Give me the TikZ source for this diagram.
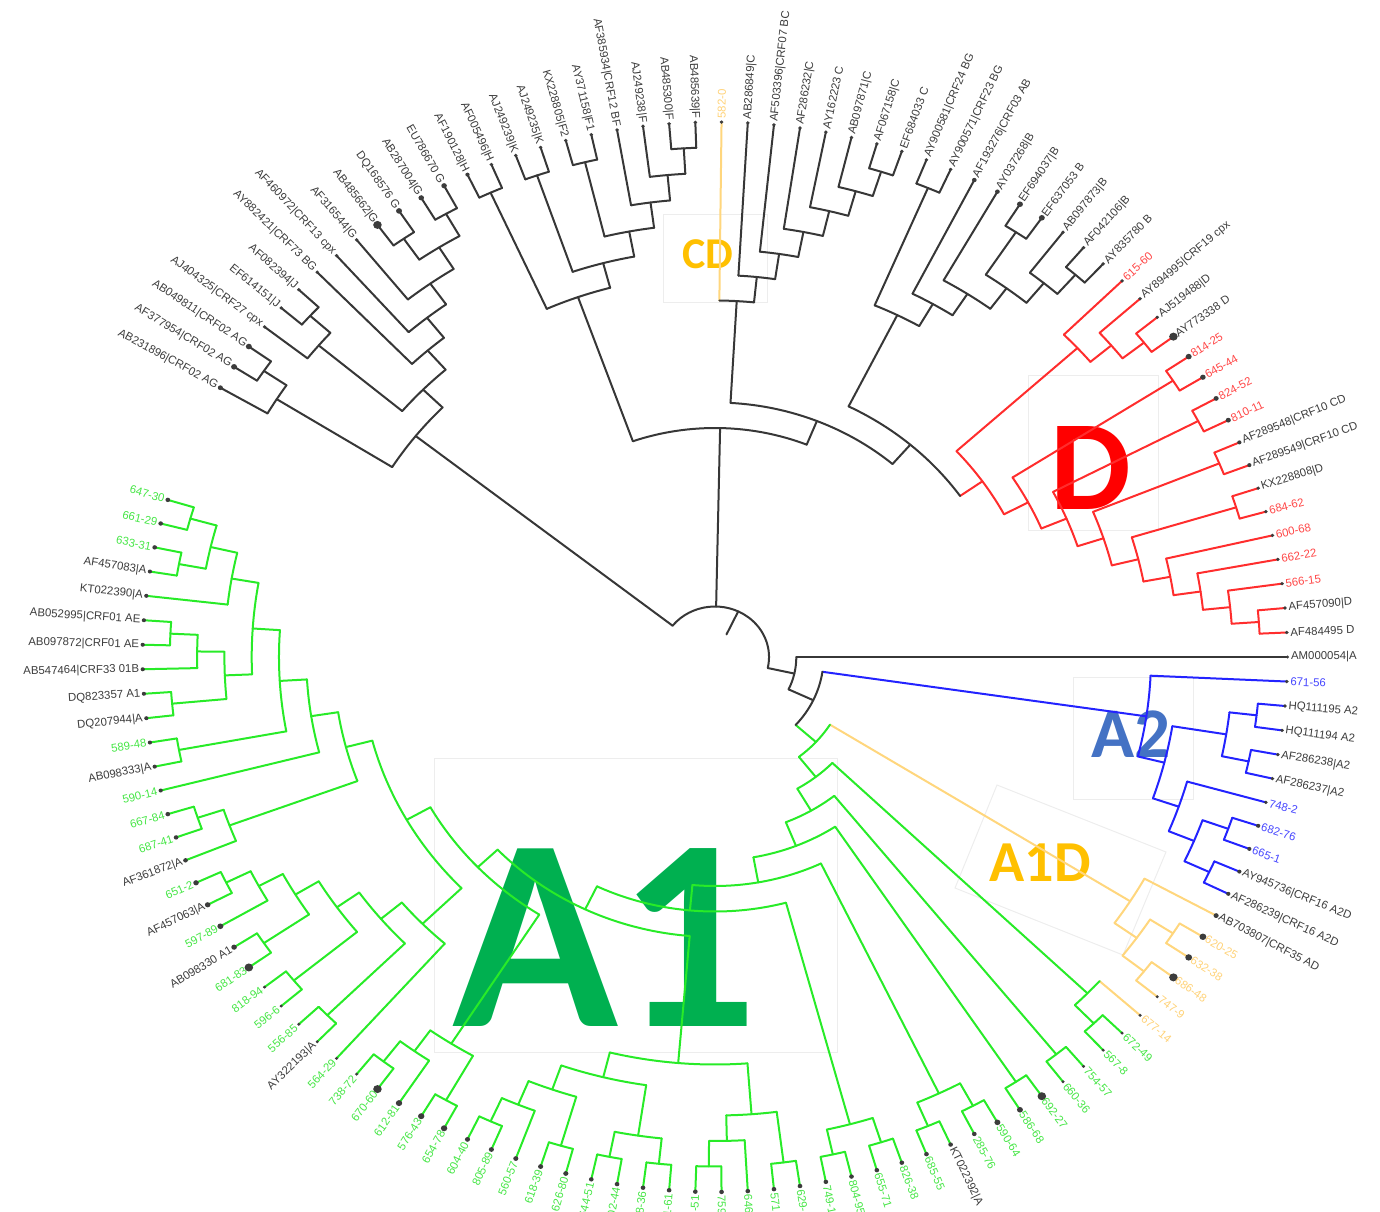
\documentclass[tikz,border=0pt]{standalone}
\usepackage{fontspec}
\setmainfont{Liberation Sans}
\newfontfamily\calb{Carlito}
\usetikzlibrary{positioning}
\pgfdeclarelayer{bg}
\pgfdeclarelayer{fg}
\pgfsetlayers{bg,main,fg}

\definecolor{brk}{RGB}{55,55,55}
\definecolor{brg}{RGB}{40,235,40}
\definecolor{brr}{RGB}{255,45,45}
\definecolor{brb}{RGB}{35,35,255}
\definecolor{bry}{RGB}{255,214,125}
\definecolor{labk}{RGB}{60,60,60}
\definecolor{labg}{RGB}{70,230,70}
\definecolor{labr}{RGB}{255,70,70}
\definecolor{labb}{RGB}{70,70,255}
\definecolor{laby}{RGB}{255,210,120}
\definecolor{bigcd}{RGB}{255,192,0}
\definecolor{bigd}{RGB}{255,0,0}
\definecolor{biga}{RGB}{68,114,196}
\definecolor{bigone}{RGB}{0,176,80}

% node store: angle, radius, colour
\newcommand\setnode[4]{%
  \expandafter\xdef\csname na@#1\endcsname{#2}%
  \expandafter\xdef\csname nr@#1\endcsname{#3}%
  \expandafter\xdef\csname nc@#1\endcsname{#4}}
\newcommand\tAng[1]{\csname na@#1\endcsname}
\newcommand\tRad[1]{\csname nr@#1\endcsname}
\newcommand\tCol[1]{\csname nc@#1\endcsname}

% leaf: slot, branch colour, label colour, dot radius, text
\newcommand\leaf[5]{%
  \pgfmathsetmacro\lfa{(#1-137*(#1>61))*2.6277372}%
  \setnode{l#1}{\lfa}{535}{#2}%
  \pgfmathsetmacro\lfr{atan2(sin(\lfa),1.07*cos(\lfa))}%
  \pgfmathtruncatemacro\lfs{cos(\lfa)>-0.001}%
  \begin{pgfonlayer}{fg}%
    \fill[labk] (\lfa:535) circle[radius=#4pt];%
    \ifnum\lfs=1
      \node[tiplab,text=#3,anchor=west,rotate=\lfr] (n#1) at (\lfa:535) {#5};%
    \else
      \pgfmathsetmacro\lfr{\lfr-180}%
      \node[tiplab,text=#3,anchor=east,rotate=\lfr] (n#1) at (\lfa:535) {#5};%
    \fi
  \end{pgfonlayer}%
}

% join two clades at level #5
\newcommand\jn[5][brk]{%
  \edef\jA{\tAng{#3}}\edef\jB{\tAng{#4}}%
  \edef\jRa{\tRad{#3}}\edef\jRb{\tRad{#4}}%
  \edef\jCa{\tCol{#3}}\edef\jCb{\tCol{#4}}%
  \pgfmathsetmacro\jR{535-25.5*#5}%
  \pgfmathsetmacro\jM{(\jA+\jB)/2}%
  \setnode{#2}{\jM}{\jR}{#1}%
  \draw[branch,draw=\jCa] (\jA:\jR) -- (\jA:\jRa);%
  \draw[branch,draw=\jCb] (\jB:\jR) -- (\jB:\jRb);%
  \draw[branch,draw=#1] (\jA:\jR) arc[start angle=\jA,end angle=\jB,radius=\jR];%
}

\begin{document}
\begin{tikzpicture}[
    x=0.5pt, y=0.5pt,
    branch/.style={line width=1pt, line cap=round},
    tiplab/.style={font=\fontsize{5.7}{6}\selectfont, inner sep=1.6pt},
    faint/.style={draw=black!7, line width=0.5pt}
]
\useasboundingbox (-715,-554) rectangle (665,657);
\begin{scope}[x=0.5pt,y=-0.5pt,shift={(-715,-657)}]
    \begin{pgfonlayer}{bg}
    \draw[faint] (663,215) rectangle (767,302);
    \draw[faint] (1028,375) rectangle (1158,530);
    \draw[faint] (1073,677) rectangle (1193,799);
    \draw[faint] (997,785) -- (1166,852) -- (1123,955) -- (955,888) -- cycle;
    \draw[faint] (435,758) rectangle (837,1052);
    \node[text=bigcd, font=\calb\bfseries\fontsize{22}{22}\selectfont, inner sep=0pt] (cdname) at (708,254) {CD};
    \node[text=bigd, font=\calb\bfseries\fontsize{64}{64}\selectfont, inner sep=0pt] (dname) at (1091,468) {D};
    \node[text=biga, font=\calb\bfseries\fontsize{35.6}{36}\selectfont, inner sep=0pt] (atwo) at (1131,734) {A2};
    \node[text=bigcd, font=\calb\bfseries\fontsize{29}{29}\selectfont, inner sep=0pt] (aoned) at (1040,863) {A1D};
    \node[text=bigone, font=\calb\bfseries\fontsize{137}{137}\selectfont, inner sep=0pt] (aone) at (605,938) {A1};
    \end{pgfonlayer}
\end{scope}

\begin{scope}[xscale=1.07]
% tips
\leaf{0}{brk}{labk}{0.8}{AM000054|A}
\leaf{1}{brr}{labk}{0.9}{AF484495 D}
\leaf{2}{brr}{labk}{0.9}{AF457090|D}
\leaf{3}{brr}{labr}{0.9}{566-15}
\leaf{4}{brr}{labr}{0.9}{662-22}
\leaf{5}{brr}{labr}{0.9}{600-68}
\leaf{6}{brr}{labr}{0.9}{684-62}
\leaf{7}{brr}{labk}{0.9}{KX228808|D}
\leaf{8}{brr}{labk}{1.0}{AF289549|CRF10 CD}
\leaf{9}{brr}{labk}{1.0}{AF289548|CRF10 CD}
\leaf{10}{brr}{labr}{1.2}{810-11}
\leaf{11}{brr}{labr}{1.2}{824-52}
\leaf{12}{brr}{labr}{1.3}{645-44}
\leaf{13}{brr}{labr}{1.4}{814-25}
\leaf{14}{brr}{labk}{2.0}{AY773338 D}
\leaf{15}{brr}{labk}{0.9}{AJ519488|D}
\leaf{16}{brr}{labk}{0.9}{AY894995|CRF19 cpx}
\leaf{17}{brr}{labr}{0.9}{615-60}
\leaf{18}{brk}{labk}{0.9}{AY835780 B}
\leaf{19}{brk}{labk}{0.9}{AF042106|B}
\leaf{20}{brk}{labk}{0.9}{AB097873|B}
\leaf{21}{brk}{labk}{1.4}{EF637053 B}
\leaf{22}{brk}{labk}{1.4}{EF694037|B}
\leaf{23}{brk}{labk}{1.1}{AY037268|B}
\leaf{24}{brk}{labk}{1.1}{AF193276|CRF03 AB}
\leaf{25}{brk}{labk}{0.9}{AY900571|CRF23 BG}
\leaf{26}{brk}{labk}{0.9}{AY900581|CRF24 BG}
\leaf{27}{brk}{labk}{0.9}{EF684033 C}
\leaf{28}{brk}{labk}{0.9}{AF067158|C}
\leaf{29}{brk}{labk}{0.9}{AB097871|C}
\leaf{30}{brk}{labk}{0.9}{AY162223 C}
\leaf{31}{brk}{labk}{0.9}{AF286232|C}
\leaf{32}{brk}{labk}{0.9}{AF503396|CRF07 BC}
\leaf{33}{brk}{labk}{0.9}{AB286849|C}
\leaf{34}{bry}{laby}{0.9}{582-0}
\leaf{35}{brk}{labk}{0.9}{AB485639|F}
\leaf{36}{brk}{labk}{0.9}{AB485300|F}
\leaf{37}{brk}{labk}{0.9}{AJ249238|F}
\leaf{38}{brk}{labk}{0.9}{AF385934|CRF12 BF}
\leaf{39}{brk}{labk}{0.9}{AY371158|F1}
\leaf{40}{brk}{labk}{0.9}{KX228805|F2}
\leaf{41}{brk}{labk}{0.9}{AJ249235|K}
\leaf{42}{brk}{labk}{0.9}{AJ249239|K}
\leaf{43}{brk}{labk}{0.9}{AF005496|H}
\leaf{44}{brk}{labk}{1.0}{AF190128|H}
\leaf{45}{brk}{labk}{1.3}{EU786670 G}
\leaf{46}{brk}{labk}{1.3}{AB287004|G}
\leaf{47}{brk}{labk}{1.4}{DQ168576 G}
\leaf{48}{brk}{labk}{2.0}{AB485662|G}
\leaf{49}{brk}{labk}{0.9}{AF316544|G}
\leaf{50}{brk}{labk}{0.9}{AF460972|CRF13 cpx}
\leaf{51}{brk}{labk}{0.9}{AY882421|CRF73 BG}
\leaf{52}{brk}{labk}{0.9}{AF082394|J}
\leaf{53}{brk}{labk}{0.9}{EF614151|J}
\leaf{54}{brk}{labk}{0.9}{AJ404325|CRF27 cpx}
\leaf{55}{brk}{labk}{1.4}{AB049811|CRF02 AG}
\leaf{56}{brk}{labk}{1.4}{AF377954|CRF02 AG}
\leaf{57}{brk}{labk}{1.2}{AB231896|CRF02 AG}
\leaf{62}{brg}{labg}{1.1}{647-30}
\leaf{63}{brg}{labg}{1.1}{661-29}
\leaf{64}{brg}{labg}{1.1}{633-31}
\leaf{65}{brg}{labk}{1.0}{AF457083|A}
\leaf{66}{brg}{labk}{1.0}{KT022390|A}
\leaf{67}{brg}{labk}{1.0}{AB052995|CRF01 AE}
\leaf{68}{brg}{labk}{1.0}{AB097872|CRF01 AE}
\leaf{69}{brg}{labk}{1.0}{AB547464|CRF33 01B}
\leaf{70}{brg}{labk}{1.0}{DQ823357 A1}
\leaf{71}{brg}{labk}{1.0}{DQ207944|A}
\leaf{72}{brg}{labg}{1.0}{589-48}
\leaf{73}{brg}{labk}{1.0}{AB098333|A}
\leaf{74}{brg}{labg}{1.0}{590-14}
\leaf{75}{brg}{labg}{1.1}{667-84}
\leaf{76}{brg}{labg}{1.1}{687-41}
\leaf{77}{brg}{labk}{1.1}{AF361872|A}
\leaf{78}{brg}{labg}{1.3}{651-2}
\leaf{79}{brg}{labk}{1.3}{AF457063|A}
\leaf{80}{brg}{labg}{1.4}{597-89}
\leaf{81}{brg}{labk}{1.3}{AB098330 A1}
\leaf{82}{brg}{labg}{2.0}{681-83}
\leaf{83}{brg}{labg}{0.8}{818-94}
\leaf{84}{brg}{labg}{0.8}{596-6}
\leaf{85}{brg}{labg}{0.8}{556-85}
\leaf{86}{brg}{labk}{0.8}{AY322193|A}
\leaf{87}{brg}{labg}{0.8}{564-29}
\leaf{88}{brg}{labg}{0.8}{738-72}
\leaf{89}{brg}{labg}{2.0}{670-60}
\leaf{90}{brg}{labg}{1.5}{612-81}
\leaf{91}{brg}{labg}{1.5}{576-43}
\leaf{92}{brg}{labg}{1.5}{654-78}
\leaf{93}{brg}{labg}{1.2}{604-40}
\leaf{94}{brg}{labg}{1.2}{805-89}
\leaf{95}{brg}{labg}{1.2}{560-57}
\leaf{96}{brg}{labg}{1.2}{618-39}
\leaf{97}{brg}{labg}{1.2}{626-80}
\leaf{98}{brg}{labg}{1.1}{644-51}
\leaf{99}{brg}{labg}{1.1}{602-44}
\leaf{100}{brg}{labg}{1.1}{598-36}
\leaf{101}{brg}{labg}{1.1}{581-61}
\leaf{102}{brg}{labg}{1.1}{651-51}
\leaf{103}{brg}{labg}{1.1}{759-32}
\leaf{104}{brg}{labg}{1.1}{646-67}
\leaf{105}{brg}{labg}{1.1}{571-70}
\leaf{106}{brg}{labg}{1.1}{629-18}
\leaf{107}{brg}{labg}{1.1}{749-16}
\leaf{108}{brg}{labg}{1.1}{804-95}
\leaf{109}{brg}{labg}{1.1}{655-71}
\leaf{110}{brg}{labg}{1.1}{826-38}
\leaf{111}{brg}{labg}{1.1}{685-55}
\leaf{112}{brg}{labk}{1.1}{KT022392|A}
\leaf{113}{brg}{labg}{1.1}{285-76}
\leaf{114}{brg}{labg}{1.4}{590-64}
\leaf{115}{brg}{labg}{1.4}{586-68}
\leaf{116}{brg}{labg}{2.0}{692-27}
\leaf{117}{brg}{labg}{0.8}{660-36}
\leaf{118}{brg}{labg}{0.8}{754-57}
\leaf{119}{brg}{labg}{0.8}{567-8}
\leaf{120}{brg}{labg}{0.8}{672-49}
\leaf{121}{bry}{laby}{0.8}{677-14}
\leaf{122}{bry}{laby}{0.8}{747-9}
\leaf{123}{bry}{laby}{2.0}{686-48}
\leaf{124}{bry}{laby}{1.6}{632-38}
\leaf{125}{bry}{laby}{1.6}{620-25}
\leaf{126}{bry}{labk}{1.2}{AB703807|CRF35 AD}
\leaf{127}{brb}{labk}{1.0}{AF286239|CRF16 A2D}
\leaf{128}{brb}{labk}{1.0}{AY945736|CRF16 A2D}
\leaf{129}{brb}{labb}{1.0}{665-1}
\leaf{130}{brb}{labb}{1.0}{682-76}
\leaf{131}{brb}{labb}{0.9}{748-2}
\leaf{132}{brb}{labk}{0.9}{AF286237|A2}
\leaf{133}{brb}{labk}{0.9}{AF286238|A2}
\leaf{134}{brb}{labk}{0.9}{HQ111194 A2}
\leaf{135}{brb}{labk}{0.9}{HQ111195 A2}
\leaf{136}{brb}{labb}{0.9}{671-56}

% D
\jn[brr]{d12}{l1}{l2}{1}
\jn[brr]{d13}{d12}{l3}{2}
\jn[brr]{d14}{d13}{l4}{3}
\jn[brr]{d15}{d14}{l5}{4}
\jn[brr]{d67}{l6}{l7}{1}
\jn[brr]{d17}{d15}{d67}{5}
\jn[brr]{d89}{l8}{l9}{1}
\jn[brr]{d19}{d17}{d89}{6}
\jn[brr]{d1011}{l10}{l11}{1}
\jn[brr]{d111}{d19}{d1011}{7}
\jn[brr]{d1213}{l12}{l13}{1}
\jn[brr]{d113}{d111}{d1213}{8}
\jn[brr]{d1415}{l14}{l15}{1}
\jn[brr]{d1416}{d1415}{l16}{2}
\jn[brr]{d1417}{d1416}{l17}{3}
\jn[brr]{dr}{d113}{d1417}{9}
% B
\jn{b1819}{l18}{l19}{1}
\jn{b1820}{b1819}{l20}{2}
\jn{b2122}{l21}{l22}{1}
\jn{b1822}{b1820}{b2122}{3}
\jn{b1823}{b1822}{l23}{4}
\jn{b1824}{b1823}{l24}{5}
\jn{b2526}{l25}{l26}{1}
\jn{bb}{b1824}{b2526}{6}
\jn{bd}{dr}{bb}{10}
% C
\jn{c2728}{l27}{l28}{1}
\jn{c2729}{c2728}{l29}{2}
\jn{c2730}{c2729}{l30}{3}
\jn{c2731}{c2730}{l31}{4}
\jn{c2732}{c2731}{l32}{5}
\jn{c2733}{c2732}{l33}{6}
\jn{cd}{c2733}{l34}{7}
\jn{tr}{cd}{bd}{11}
% F, K, H
\jn{f3536}{l35}{l36}{1}
\jn{f3537}{f3536}{l37}{2}
\jn{f3538}{f3537}{l38}{3}
\jn{f3940}{l39}{l40}{1}
\jn{f3540}{f3538}{f3940}{4}
\jn{f4142}{l41}{l42}{1}
\jn{f3542}{f3540}{f4142}{5}
\jn{f4344}{l43}{l44}{1}
\jn{fh}{f3542}{f4344}{6}
\jn{tp}{fh}{tr}{12}
% G, J, CRF02
\jn{u4546}{l45}{l46}{1}
\jn{u4748}{l47}{l48}{1}
\jn{u4548}{u4546}{u4748}{2}
\jn{u4549}{u4548}{l49}{3}
\jn{u4550}{u4549}{l50}{4}
\jn{u4551}{u4550}{l51}{5}
\jn{u5253}{l52}{l53}{1}
\jn{u5254}{u5253}{l54}{2}
\jn{u4554}{u4551}{u5254}{6}
\jn{u5556}{l55}{l56}{1}
\jn{u5557}{u5556}{l57}{2}
\jn{ul}{u4554}{u5557}{7}
% A1
\jn[brg]{a6263}{l62}{l63}{1}
\jn[brg]{a6465}{l64}{l65}{1}
\jn[brg]{a6265}{a6263}{a6465}{2}
\jn[brg]{a6266}{a6265}{l66}{3}
\jn[brg]{a6768}{l67}{l68}{1}
\jn[brg]{a6769}{a6768}{l69}{2}
\jn[brg]{a7071}{l70}{l71}{1}
\jn[brg]{a6771}{a6769}{a7071}{3}
\jn[brg]{a6271}{a6266}{a6771}{4}
\jn[brg]{a7273}{l72}{l73}{1}
\jn[brg]{a6273}{a6271}{a7273}{5}
\jn[brg]{a6274}{a6273}{l74}{6}
\jn[brg]{a7576}{l75}{l76}{1}
\jn[brg]{a7577}{a7576}{l77}{2}
\jn[brg]{la}{a6274}{a7577}{7}
\jn[brg]{a7879}{l78}{l79}{1}
\jn[brg]{a7880}{a7879}{l80}{2}
\jn[brg]{a8182}{l81}{l82}{1}
\jn[brg]{a7882}{a7880}{a8182}{3}
\jn[brg]{a8384}{l83}{l84}{1}
\jn[brg]{a7884}{a7882}{a8384}{4}
\jn[brg]{a8586}{l85}{l86}{1}
\jn[brg]{a7886}{a7884}{a8586}{5}
\jn[brg]{a7887}{a7886}{l87}{6}
\jn[brg]{lb}{la}{a7887}{8}
\jn[brg]{a8889}{l88}{l89}{1}
\jn[brg]{a8890}{a8889}{l90}{2}
\jn[brg]{a9192}{l91}{l92}{1}
\jn[brg]{a8892}{a8890}{a9192}{3}
\jn[brg]{lc}{lb}{a8892}{9}
\jn[brg]{a9394}{l93}{l94}{1}
\jn[brg]{a9395}{a9394}{l95}{2}
\jn[brg]{a9697}{l96}{l97}{1}
\jn[brg]{a9397}{a9395}{a9697}{3}
\jn[brg]{a9899}{l98}{l99}{1}
\jn[brg]{a100101}{l100}{l101}{1}
\jn[brg]{a98101}{a9899}{a100101}{2}
\jn[brg]{a93101}{a9397}{a98101}{4}
\jn[brg]{a102103}{l102}{l103}{1}
\jn[brg]{a102104}{a102103}{l104}{2}
\jn[brg]{a105106}{l105}{l106}{1}
\jn[brg]{a102106}{a102104}{a105106}{3}
\jn[brg]{ab1}{a93101}{a102106}{5}
\jn[brg]{ld}{lc}{ab1}{10}
\jn[brg]{a107108}{l107}{l108}{1}
\jn[brg]{a109110}{l109}{l110}{1}
\jn[brg]{ag10}{a107108}{a109110}{2}
\jn[brg]{ax2}{ld}{ag10}{11}
\jn[brg]{a111112}{l111}{l112}{1}
\jn[brg]{a113114}{l113}{l114}{1}
\jn[brg]{ag9}{a111112}{a113114}{2}
\jn[brg]{ax1}{ax2}{ag9}{12}
\jn[brg]{ag7}{l115}{l116}{1}
\jn[brg]{ag6}{ax1}{ag7}{13}
\jn[brg]{ag5}{l117}{l118}{1}
\jn[brg]{ag4}{ag6}{ag5}{14}
\jn[brg]{a119120}{l119}{l120}{1}
\jn[brg]{ag3}{a119120}{l121}{2}
\jn[brg]{ag2}{ag4}{ag3}{15}
% A1D
\jn[bry]{y124125}{l124}{l125}{1}
\jn[bry]{y122123}{l122}{l123}{1}
\jn[bry]{y122125}{y122123}{y124125}{2}
\jn[bry]{a1d}{y122125}{l126}{3}
\jn[brg]{ag0}{ag2}{a1d}{16}
% A2
\jn[brb]{h134135}{l134}{l135}{1}
\jn[brb]{h132133}{l132}{l133}{1}
\jn[brb]{h132135}{h132133}{h134135}{2}
\jn[brb]{h129130}{l129}{l130}{1}
\jn[brb]{h127128}{l127}{l128}{1}
\jn[brb]{h127130}{h127128}{h129130}{2}
\jn[brb]{h127131}{h127130}{l131}{3}
\jn[brb]{h127135}{h127131}{h132135}{4}
\jn[brb]{a2}{h127135}{l136}{5}
\jn{rm2}{ag0}{a2}{17}
\jn{rm}{rm2}{l0}{18}
% root
\edef\rA{\tAng{ul}}\edef\rB{\tAng{tp}}\edef\rC{\tAng{rm}}
\edef\rRa{\tRad{ul}}\edef\rRb{\tRad{tp}}\edef\rRc{\tRad{rm}}
\pgfmathsetmacro\rM{(\rA+\rC)/2}
\draw[branch,brk] (\rA:50.5) arc[start angle=\rA,end angle=\rC,radius=50.5];
\draw[branch,brk] (\rA:50.5) -- (\rA:\rRa);
\draw[branch,brk] (\rB:50.5) -- (\rB:\rRb);
\draw[branch,brk] (\rC:50.5) -- (\rC:\rRc);
\draw[branch,brk] (\rM:50.5) -- (\rM:25);
\end{scope}
\end{tikzpicture}
\end{document}
